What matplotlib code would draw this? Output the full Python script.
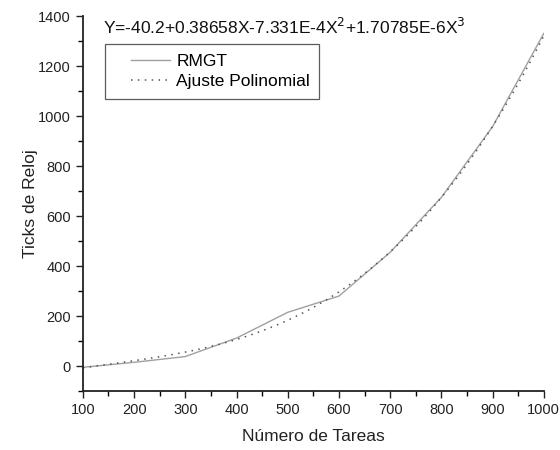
import numpy as np
import matplotlib
matplotlib.use("Agg")
import matplotlib.pyplot as plt
from matplotlib.ticker import MultipleLocator
from matplotlib.legend_handler import HandlerLine2D

plt.rcParams['font.family'] = ['Liberation Sans', 'DejaVu Sans']

# Data
tareas = [100, 200, 300, 400, 500, 600, 700, 800, 900, 1000]
rmgt = [-5, 15, 38, 112, 215, 280, 455, 675, 958, 1331]
# Polynomial fit coefficients shown in the chart (c0, c1, c2, c3)
fit_coefs = [-40.2, 0.38658, -7.331e-4, 1.70785e-6]


class OffsetLineHandler(HandlerLine2D):
    def create_artists(self, legend, orig_handle, xdescent, ydescent,
                       width, height, fontsize, trans):
        artists = super().create_artists(legend, orig_handle, xdescent, ydescent,
                                         width, height, fontsize, trans)
        for a in artists:
            xd = np.asarray(a.get_xdata(), dtype=float)
            if xd.size >= 2:
                lo, hi = xd.min(), xd.max()
                a.set_xdata(lo + 0.3 * (hi - lo) + (xd - lo) * 0.7)
        return artists


fig = plt.figure(figsize=(5.6, 4.5), dpi=100)
ax = fig.add_axes([0.148, 0.131, 0.823, 0.833])

xfit = np.linspace(tareas[0], tareas[-1], 300)
yfit = np.polynomial.polynomial.polyval(xfit, fit_coefs)

l1, = ax.plot(tareas, rmgt, color='#a0a0a0', lw=1.0, label='RMGT')
l2, = ax.plot(xfit, yfit, color='#555555', lw=1.1, linestyle=(0, (1, 3.5)), label='Ajuste Polinomial')

ax.set_xlim(100, 1000)
ax.set_ylim(-100, 1400)
ax.xaxis.set_major_locator(MultipleLocator(100))
ax.xaxis.set_minor_locator(MultipleLocator(50))
ax.yaxis.set_major_locator(MultipleLocator(200))
ax.yaxis.set_minor_locator(MultipleLocator(100))
ax.tick_params(axis='both', which='major', direction='out', length=5, width=1,
               labelsize=10.5, colors='#222222')
ax.tick_params(axis='both', which='minor', direction='out', length=3.5, width=1)
ax.spines['top'].set_visible(False)
ax.spines['right'].set_visible(False)
for s in ('left', 'bottom'):
    ax.spines[s].set_linewidth(1.3)
    ax.spines[s].set_color('#222222')

ax.set_xlabel('Número de Tareas', fontsize=12.5, color='#222222', labelpad=9)
ax.set_ylabel('Ticks de Reloj', fontsize=12.5, color='#222222', labelpad=0)

ax.text(0.043, 0.999, 'Y=-40.2+0.38658X-7.331E-4X$^2$+1.70785E-6X$^3$',
        transform=ax.transAxes, fontsize=12.5, ha='left', va='top', color='#111111')

leg = ax.legend(handles=[l1, l2], loc='upper left', bbox_to_anchor=(0.048, 0.925),
                fontsize=12.5, frameon=True, fancybox=False, edgecolor='#333333',
                handlelength=3.2, handletextpad=0.35, borderpad=0.55,
                labelspacing=0.3, borderaxespad=0,
                handler_map={l1: OffsetLineHandler(), l2: OffsetLineHandler()})
leg.get_frame().set_linewidth(0.9)

fig.savefig('out.png', dpi=100, facecolor='white')
